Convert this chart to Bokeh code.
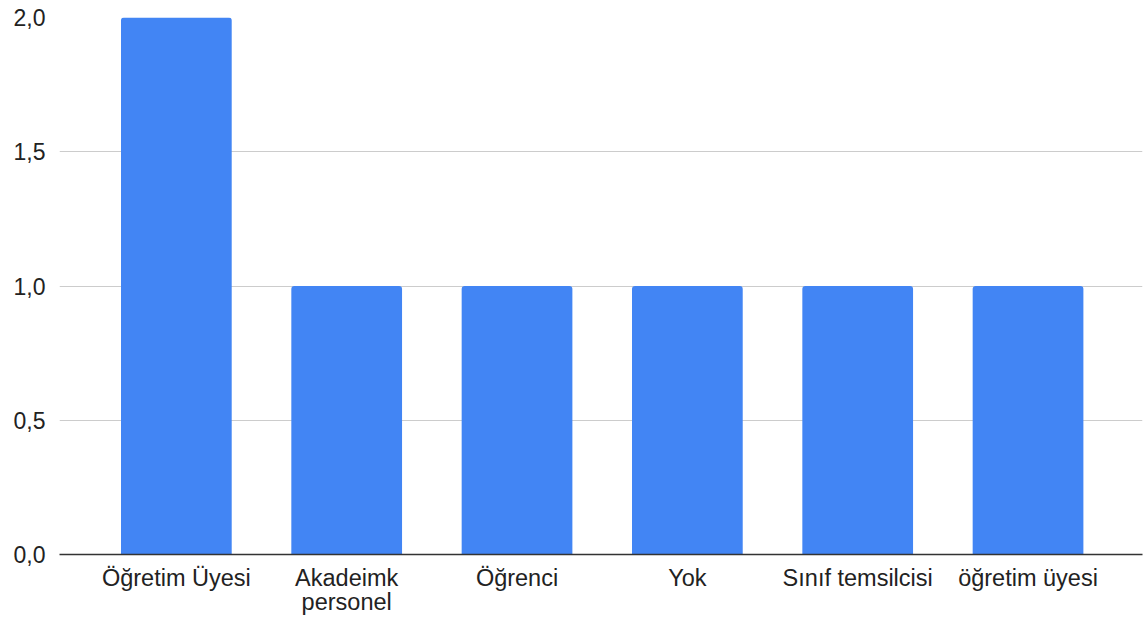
from bokeh.plotting import figure
from bokeh.models import Range1d, FixedTicker, CustomJSTickFormatter, ColumnDataSource
from bokeh.embed import file_html
from bokeh.resources import INLINE

categories = ["Öğretim Üyesi", "Akadeimk\npersonel", "Öğrenci", "Yok", "Sınıf temsilcisi", "öğretim üyesi"]
values = [2, 1, 1, 1, 1, 1]
y_ticks = [0, 0.5, 1.0, 1.5, 2.0]

xs = [i + 0.5 for i in range(len(categories))]
src = ColumnDataSource(dict(x=xs, top=values))

p = figure(width=1145, height=621, output_backend="svg", toolbar_location=None,
           x_range=Range1d(-0.186, 6.172), y_range=Range1d(0, 2),
           min_border_left=59, min_border_right=3, min_border_top=17, min_border_bottom=67)

p.vbar(x="x", top="top", bottom=0, width=0.65, source=src, fill_color="#4285F4",
       line_color=None, border_radius=(3, 3, 0, 0))

p.outline_line_color = None
p.xgrid.grid_line_color = None
p.ygrid.grid_line_color = "#cccccc"
p.ygrid.grid_line_width = 1

p.yaxis.ticker = FixedTicker(ticks=y_ticks)
p.yaxis.formatter = CustomJSTickFormatter(code="return tick.toFixed(1).replace('.', ',');")
p.yaxis.axis_line_color = None
p.yaxis.major_tick_line_color = None
p.yaxis.minor_tick_line_color = None
p.yaxis.major_tick_out = 0
p.yaxis.major_label_standoff = 14
p.yaxis.major_label_text_font = "Liberation Sans"
p.yaxis.major_label_text_font_size = "23px"
p.yaxis.major_label_text_color = "#222222"

p.xaxis.ticker = FixedTicker(ticks=xs)
p.xaxis.major_label_overrides = {x: c for x, c in zip(xs, categories)}
p.xaxis.axis_line_color = "#333333"
p.xaxis.axis_line_width = 1.5
p.xaxis.major_tick_line_color = None
p.xaxis.minor_tick_line_color = None
p.xaxis.major_tick_out = 0
p.xaxis.major_label_standoff = 10
p.xaxis.major_label_text_font = "Liberation Sans"
p.xaxis.major_label_text_font_size = "23.5px"
p.xaxis.major_label_text_color = "#222222"
p.xaxis.major_label_text_line_height = 0.95

open("out.html", "w").write(file_html(p, INLINE))
